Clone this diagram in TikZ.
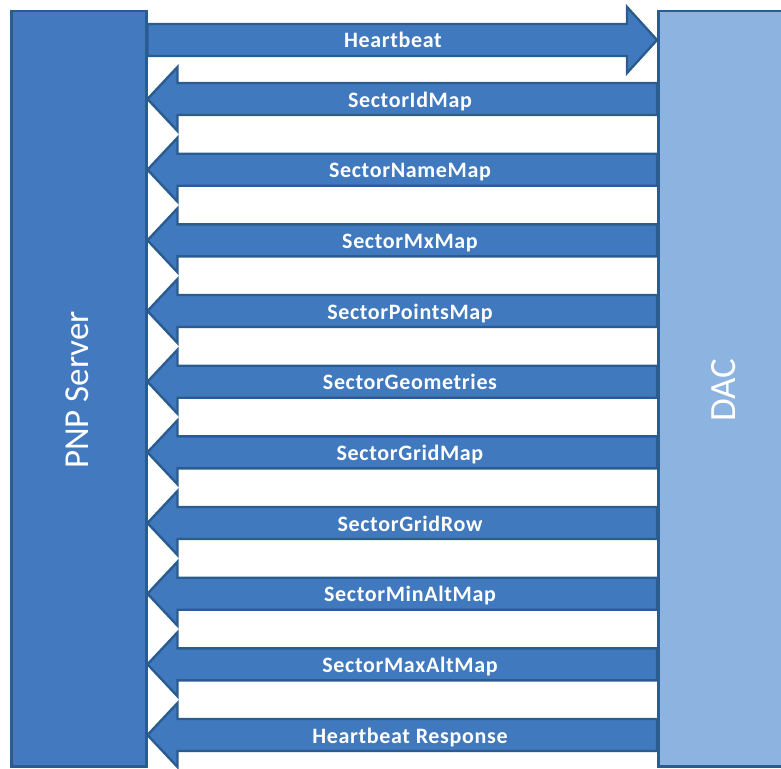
\documentclass[tikz,border=0pt]{standalone}
\usepackage{fontspec}
\setmainfont{Carlito}
\newfontfamily\lblfont[LetterSpace=3.0]{Carlito}
\usetikzlibrary{calc}
\definecolor{arrowfill}{HTML}{4079BD}
\definecolor{edgeblue}{HTML}{2B5C90}
\definecolor{pnpfill}{HTML}{4379BE}
\definecolor{dacfill}{HTML}{8DB3E0}
\begin{document}
\begin{tikzpicture}[x=1pt,y=-1pt,
  boxnode/.style={draw=edgeblue, line width=2.5pt, minimum width=135pt, minimum height=755pt, inner sep=0pt, anchor=north west},
  blockarrow/.style={fill=arrowfill, draw=edgeblue, line width=2.4pt, line join=miter},
  lbl/.style={font=\lblfont\bfseries\fontsize{22}{22}\selectfont, text=white, inner sep=0pt, anchor=base},
  boxlbl/.style={font=\fontsize{35}{35}\selectfont, text=white, rotate=90, inner sep=0pt}]
\useasboundingbox (0,0) rectangle (781,768);
\clip (0,0) rectangle (781,768);
\node[boxnode, fill=pnpfill] (pnp) at (10,10) {};
\node[boxnode, fill=dacfill] (dac) at (657,10) {};
\node[boxlbl] (pnplbl) at (77,390) {PNP Server};
\node[boxlbl, font=\fontsize{37}{37}\selectfont] (daclbl) at (724,390) {DAC};
% Heartbeat (right arrow)
\draw[blockarrow] let \p1=(pnp.east), \p2=(dac.west) in
  (\x1,24) -- (\x2-30,24) -- (\x2-30,7) -- (\x2,40) -- (\x2-30,73) -- (\x2-30,56) -- (\x1,56) -- cycle;
\node[lbl] (hb) at (393,48) {Heartbeat};
% Left arrows
\foreach \c/\t [count=\i] in {99/SectorIdMap, 169.7/SectorNameMap, 240.3/SectorMxMap, 311/SectorPointsMap, 381.7/SectorGeometries, 452.3/SectorGridMap, 523/SectorGridRow, 593.7/SectorMinAltMap, 664.3/SectorMaxAltMap, 735/Heartbeat Response}{
  \draw[blockarrow] let \p1=(pnp.east), \p2=(dac.west) in
    (\x1,\c) -- (\x1+30,\c-32) -- (\x1+30,\c-16) -- (\x2,\c-16) -- (\x2,\c+16) -- (\x1+30,\c+16) -- (\x1+30,\c+32) -- cycle;
  \node[lbl] (m\i) at (410,\c+8) {\t};
}
\end{tikzpicture}
\end{document}
